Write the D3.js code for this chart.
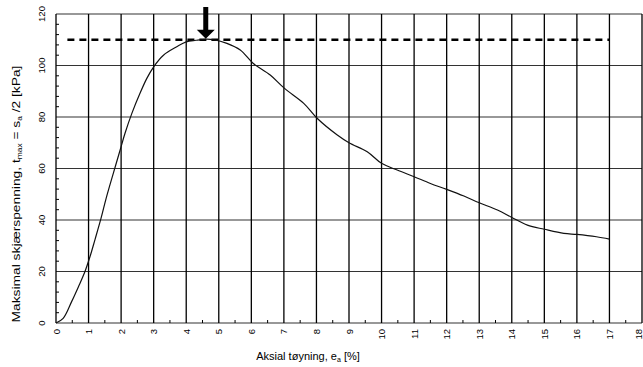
<!DOCTYPE html>
<html>
<head>
<meta charset="utf-8">
<script src="https://cdn.jsdelivr.net/npm/d3@7"></script>
<style>
  body { margin: 0; background: #fff; }
  svg { display: block; font-family: "Liberation Sans", Arial, sans-serif; }
</style>
</head>
<body>
<div id="chart"></div>
<script>
// strain (%) and max shear stress (kPa)
const strain = [0, 0.22, 0.48, 0.69, 0.89, 1.05, 1.2, 1.38, 1.54, 1.76, 1.97, 2.12, 2.33, 2.58, 2.79, 3.0, 3.3, 3.71, 4.0, 4.3, 4.6, 4.85, 5.25, 5.66, 6.06, 6.58, 7.02, 7.61, 8.02, 8.64, 9.0, 9.56, 10.0, 10.48, 11.0, 11.5, 12.0, 12.53, 13.0, 13.56, 14.0, 14.48, 15.0, 15.6, 16.0, 16.6, 17.0];
const stress = [0, 1.8, 8.3, 14.1, 20, 26, 32.5, 40.5, 48.4, 58.1, 67.2, 73.7, 81.4, 89.2, 95, 99.5, 104, 107.3, 109.2, 109.8, 110.2, 110, 108.6, 106, 100.8, 96.3, 91.1, 85.3, 79.5, 73, 70, 66.5, 62, 59.4, 56.8, 54.2, 51.9, 49.3, 46.7, 43.9, 41, 38, 36.4, 34.8, 34.4, 33.5, 32.6];

// tick values
const xTicks = d3.range(0, 19, 1);
const yTicks = [0, 20, 40, 60, 80, 100, 120];
const xMinor = d3.range(0.5, 18, 1);
const yMinor = d3.range(0, 121, 4).filter(d => d % 20 !== 0);

// peak marker
const peakStress = 110;
const peakStrain = 4.6;
const peakLineFrom = 0.35;
const peakLineTo = 17;

const width = 643, height = 367;
const margins = { top: 14, bottom: 44, left: 56, right: 1 };

const svg = d3.select('#chart').append('svg')
    .attr('width', width)
    .attr('height', height);

const xScale = d3.scaleLinear()
    .domain([0, 18])
    .range([margins.left, width - margins.right]);

const yScale = d3.scaleLinear()
    .domain([0, 120])
    .range([height - margins.bottom, margins.top]);

const plot = svg.append('g');

// horizontal grid
plot.selectAll('.hgrid').data(yTicks).enter().append('line')
    .attr('x1', xScale(0)).attr('x2', xScale(18))
    .attr('y1', d => yScale(d)).attr('y2', d => yScale(d))
    .attr('stroke', '#333').attr('stroke-width', 1.1);

// vertical grid
plot.selectAll('.vgrid').data(xTicks).enter().append('line')
    .attr('x1', d => xScale(d)).attr('x2', d => xScale(d))
    .attr('y1', yScale(0)).attr('y2', yScale(120))
    .attr('stroke', '#000').attr('stroke-width', 1.3);

// minor ticks, pointing inward
plot.selectAll('.xminor').data(xMinor).enter().append('line')
    .attr('x1', d => xScale(d)).attr('x2', d => xScale(d))
    .attr('y1', yScale(0)).attr('y2', yScale(0) - 3)
    .attr('stroke', '#000').attr('stroke-width', 1);

plot.selectAll('.yminor').data(yMinor).enter().append('line')
    .attr('x1', xScale(0)).attr('x2', xScale(0) + 3)
    .attr('y1', d => yScale(d)).attr('y2', d => yScale(d))
    .attr('stroke', '#000').attr('stroke-width', 1);

// tick labels, rotated
svg.selectAll('.ylab').data(yTicks).enter().append('text')
    .attr('transform', d => `translate(41,${yScale(d)}) rotate(-90)`)
    .attr('text-anchor', 'middle')
    .attr('dominant-baseline', 'central')
    .attr('font-size', 9.5)
    .text(d => d);

// last label sits on the right edge, pull it in a bit so it stays visible
svg.selectAll('.xlab').data(xTicks).enter().append('text')
    .attr('transform', d => `translate(${Math.min(xScale(d), width - 5)},329) rotate(-90)`)
    .attr('text-anchor', 'end')
    .attr('dominant-baseline', 'central')
    .attr('font-size', 9.5)
    .text(d => d);

// axis titles
const xTitle = svg.append('text')
    .attr('x', 308).attr('y', 360)
    .attr('text-anchor', 'middle')
    .attr('font-size', 11);
xTitle.append('tspan').text('Aksial tøyning, e');
xTitle.append('tspan').attr('font-size', 7).attr('dy', 2).text('a');
xTitle.append('tspan').attr('dy', -2).text(' [%]');

const yTitle = svg.append('text')
    .attr('transform', 'translate(20,194) rotate(-90) scale(1.2,1)')
    .attr('text-anchor', 'middle')
    .attr('font-size', 11.5);
yTitle.append('tspan').text('Maksimal skjærspenning, t');
yTitle.append('tspan').attr('font-size', 7).attr('dy', 2).text('max');
yTitle.append('tspan').attr('dy', -2).text(' = s');
yTitle.append('tspan').attr('font-size', 7).attr('dy', 2).text('a');
yTitle.append('tspan').attr('dy', -2).text(' /2  [kPa]');

// dashed peak line
plot.append('line')
    .attr('x1', xScale(peakLineFrom)).attr('x2', xScale(peakLineTo))
    .attr('y1', yScale(peakStress)).attr('y2', yScale(peakStress))
    .attr('stroke', '#000').attr('stroke-width', 2.6)
    .attr('stroke-dasharray', '7,5');

// curve
const line = d3.line()
    .x((d, i) => xScale(strain[i]))
    .y(d => yScale(d))
    .curve(d3.curveCatmullRom);

plot.append('path')
    .datum(stress)
    .attr('fill', 'none')
    .attr('stroke', '#111')
    .attr('stroke-width', 1.2)
    .attr('d', line);

// arrow pointing at the peak
const ax = xScale(peakStrain);
const tip = yScale(peakStress) - 1;
svg.append('path')
    .attr('d', `M${ax - 2.5},7 L${ax + 2.5},7 L${ax + 2.5},${tip - 9} L${ax + 9},${tip - 9} L${ax},${tip} L${ax - 9},${tip - 9} L${ax - 2.5},${tip - 9} Z`)
    .attr('fill', '#000');
</script>
</body>
</html>
